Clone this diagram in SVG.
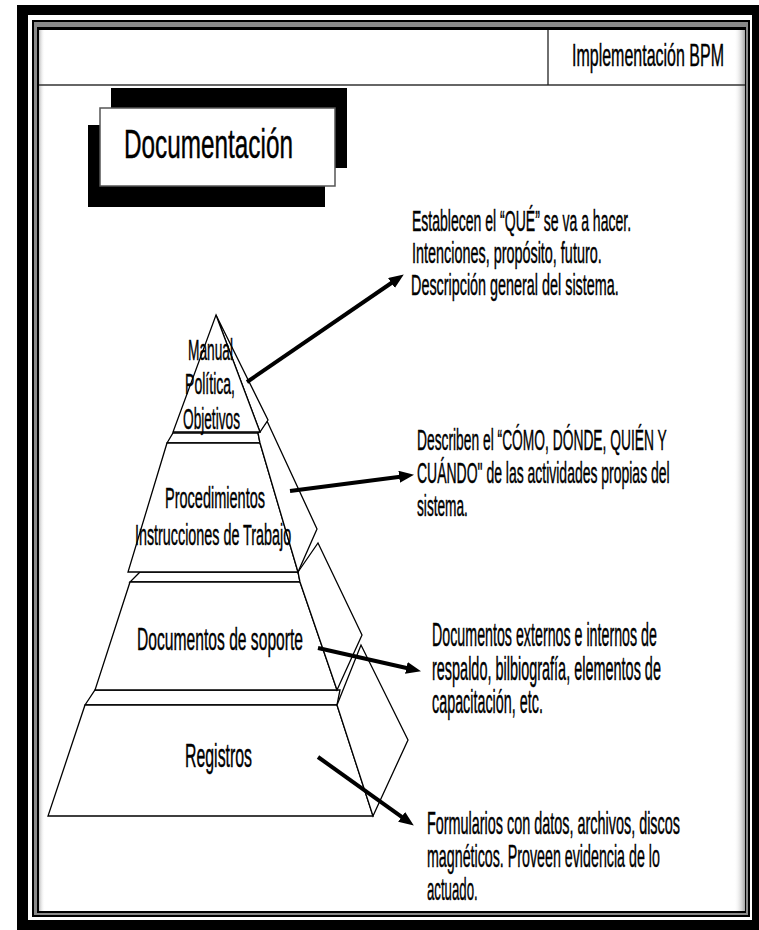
<svg xmlns="http://www.w3.org/2000/svg" width="759" height="930" viewBox="0 0 759 930">
  <style>
    .t { font-family: "Liberation Sans", Arial, sans-serif; fill: #000; stroke: #000; stroke-width: 0.45; }
    .shape { fill: #fff; stroke: #000; stroke-width: 1.3; stroke-linejoin: miter; }
    .arrow { stroke: #000; stroke-width: 4; fill: none; marker-end: url(#head); }
  </style>
  <defs>
    <marker id="head" markerUnits="userSpaceOnUse" markerWidth="17" markerHeight="14" refX="7" refY="6" orient="auto">
      <path d="M0,0 L15,6 L0,12 z" fill="#000"/>
    </marker>
    <linearGradient id="shR" x1="0" y1="0" x2="1" y2="0">
      <stop offset="0" stop-color="#fff" stop-opacity="0"/>
      <stop offset="1" stop-color="#9a9a9a" stop-opacity="0.9"/>
    </linearGradient>
    <linearGradient id="shL" x1="0" y1="0" x2="1" y2="0">
      <stop offset="0" stop-color="#bdbdbd"/>
      <stop offset="1" stop-color="#fff" stop-opacity="0"/>
    </linearGradient>
  </defs>

  <rect width="759" height="930" fill="#fff"/>

  <g id="frame">
    <rect x="17" y="5" width="742" height="925" fill="#000"/>
    <rect x="28" y="15" width="724" height="905" fill="#fff"/>
    <rect x="32" y="20" width="718" height="897" fill="#000"/>
    <rect x="34" y="22" width="714" height="893" fill="#8a8a8a"/>
    <rect x="37" y="27" width="709" height="886" fill="#000"/>
    <rect x="39" y="30" width="706" height="881" fill="#fff"/>
    <rect x="734" y="30" width="11" height="881" fill="url(#shR)"/>
    <rect x="39" y="30" width="6" height="881" fill="url(#shL)"/>
  </g>

  <g id="header">
    <line x1="39" y1="85" x2="745" y2="85" stroke="#333" stroke-width="1.5"/>
    <line x1="548" y1="30" x2="548" y2="85" stroke="#222" stroke-width="1.3"/>
    <text class="t" font-size="31" transform="translate(572,66) scale(0.516,1)">Implementación BPM</text>
  </g>

  <g id="title-box">
    <rect x="111" y="88" width="236" height="80" fill="#000"/>
    <rect x="88" y="125" width="237" height="82" fill="#000"/>
    <rect x="100" y="108" width="235" height="78" fill="#fff" stroke="#555" stroke-width="1.5"/>
    <text class="t" font-size="40" transform="translate(124,158) scale(0.608,1)">Documentación</text>
  </g>

  <g id="tier-registros">
    <polygon class="shape" points="95,690 340,690 337,705 85,705"/>
    <polygon class="shape" points="85,705 337,705 373,816 48,816"/>
    <polygon class="shape" points="337,705 361,645 408,740 373,816"/>
    <text class="t" font-size="34" transform="translate(185,767) scale(0.467,1)">Registros</text>
  </g>

  <g id="tier-soporte">
    <polygon class="shape" points="140,572 298,572 300,582 130,582"/>
    <polygon class="shape" points="130,582 300,582 337,690 95,690"/>
    <polygon class="shape" points="298,572 318,543 362,635 337,690 300,582"/>
    <text class="t" font-size="32" transform="translate(137,650) scale(0.489,1)">Documentos de soporte</text>
  </g>

  <g id="tier-procedimientos">
    <polygon class="shape" points="173,433 258,433 260,443 167,443"/>
    <polygon class="shape" points="167,443 260,443 298,572 128,572"/>
    <polygon class="shape" points="258,433 267,421 317,529 298,572 260,443"/>
    <text class="t" font-size="30" transform="translate(165,508) scale(0.484,1)">Procedimientos</text>
    <text class="t" font-size="30" transform="translate(135,545) scale(0.478,1)">Instrucciones de Trabajo</text>
  </g>

  <g id="tier-manual">
    <polygon class="shape" points="216,315 268,420 260,432"/>
    <polygon class="shape" points="216,315 260,432 173,432"/>
    <text class="t" font-size="30" transform="translate(188,360) scale(0.457,1)">Manual</text>
    <text class="t" font-size="30" transform="translate(185,394) scale(0.469,1)">Política,</text>
    <text class="t" font-size="30" transform="translate(183,429) scale(0.456,1)">Objetivos</text>
  </g>

  <g id="connectors">
    <line class="arrow" x1="247" y1="382" x2="397.2" y2="279"/>
    <line class="arrow" x1="290" y1="491" x2="406.1" y2="475.9"/>
    <line class="arrow" x1="318" y1="648" x2="413.2" y2="669.5"/>
    <line class="arrow" x1="318" y1="757" x2="407.3" y2="820.9"/>
  </g>

  <g id="note-manual">
    <text class="t" font-size="29" transform="translate(412,231) scale(0.484,1)">Establecen el “QUÉ” se va a hacer.</text>
    <text class="t" font-size="29" transform="translate(412,263) scale(0.497,1)">Intenciones, propósito, futuro.</text>
    <text class="t" font-size="29" transform="translate(411,295) scale(0.496,1)">Descripción general del sistema.</text>
  </g>

  <g id="note-procedimientos">
    <text class="t" font-size="29" transform="translate(417,450) scale(0.476,1)">Describen el “CÓMO, DÓNDE, QUIÉN Y</text>
    <text class="t" font-size="29" transform="translate(417,483) scale(0.482,1)">CUÁNDO" de las actividades propias del</text>
    <text class="t" font-size="29" transform="translate(417,516) scale(0.472,1)">sistema.</text>
  </g>

  <g id="note-soporte">
    <text class="t" font-size="33" transform="translate(432,646) scale(0.432,1)">Documentos externos e internos de</text>
    <text class="t" font-size="33" transform="translate(432,680) scale(0.438,1)">respaldo, bilbiografía, elementos de</text>
    <text class="t" font-size="33" transform="translate(432,713) scale(0.435,1)">capacitación, etc.</text>
  </g>

  <g id="note-registros">
    <text class="t" font-size="31" transform="translate(427,834) scale(0.465,1)">Formularios con datos, archivos, discos</text>
    <text class="t" font-size="31" transform="translate(427,867) scale(0.46,1)">magnéticos. Proveen evidencia de lo</text>
    <text class="t" font-size="31" transform="translate(427,900) scale(0.426,1)">actuado.</text>
  </g>
</svg>
